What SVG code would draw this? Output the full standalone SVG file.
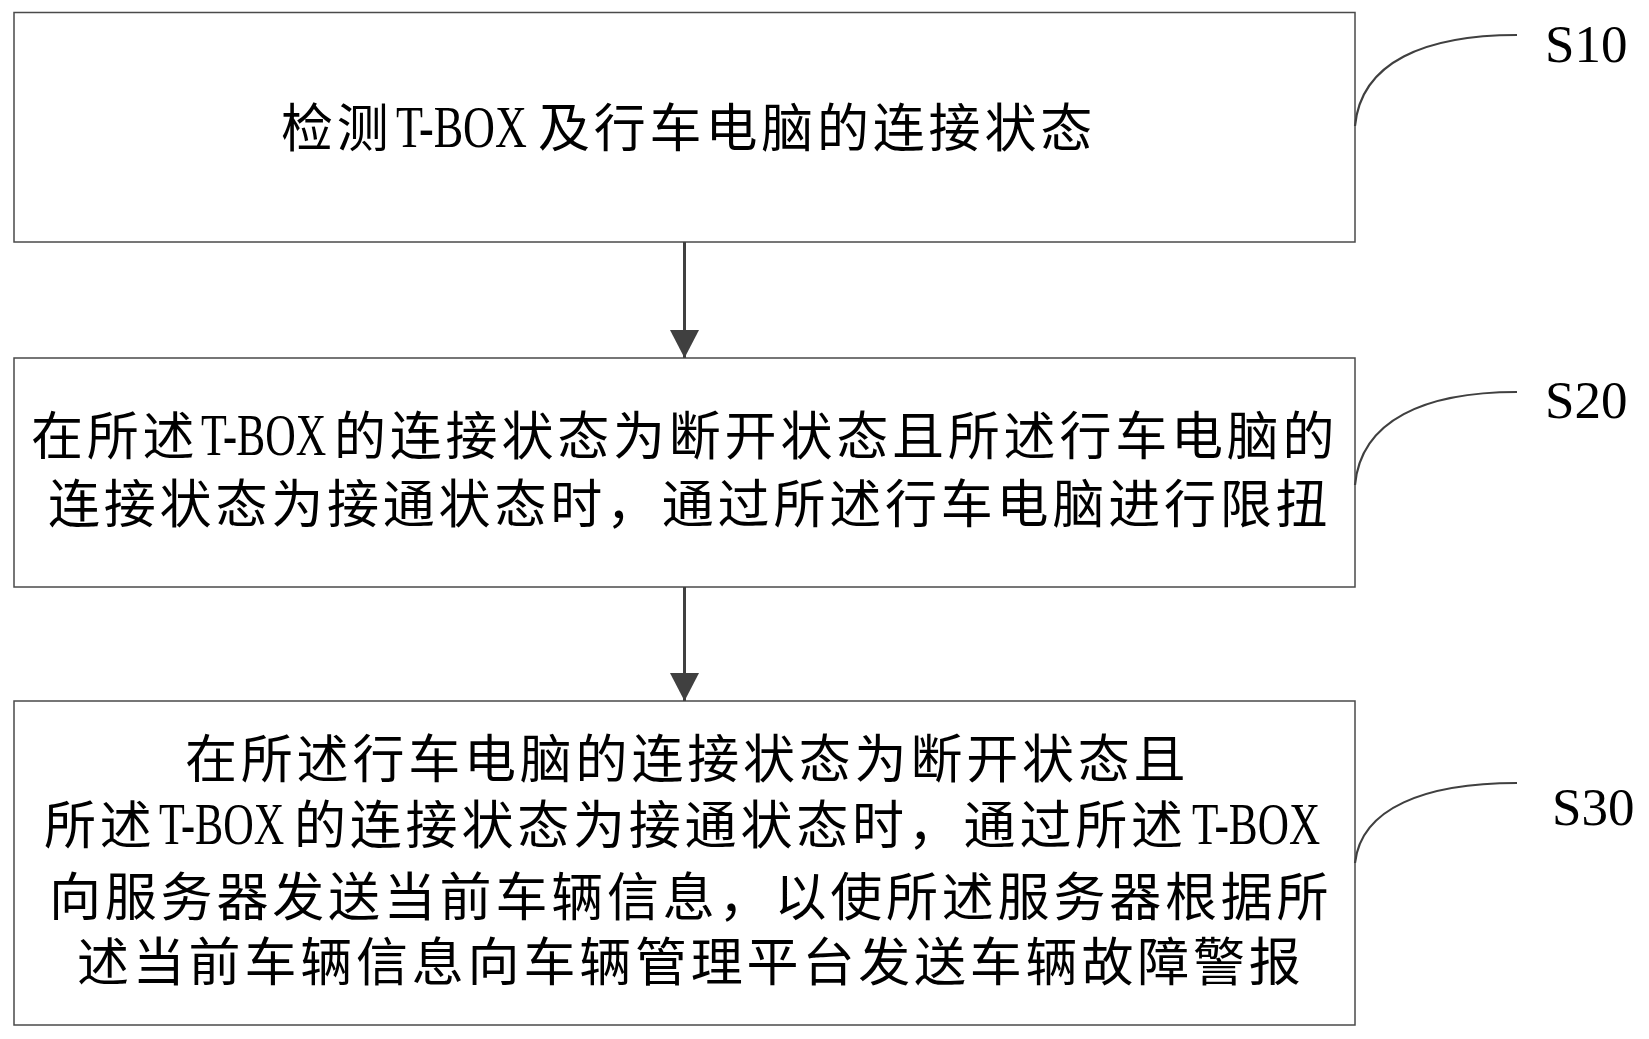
<svg xmlns="http://www.w3.org/2000/svg" width="1649" height="1039" viewBox="0 0 1649 1039">
<style>
.box{fill:#fff;stroke:#4a4a4a;stroke-width:1.5}
.c{font-family:"Noto Sans CJK SC","Noto Sans CJK TC",sans-serif;font-size:52px;letter-spacing:3.8px;fill:#000}
.l{font-family:"Liberation Serif",serif;font-size:59px;fill:#000}
.s{font-family:"Liberation Serif",serif;font-size:53px;fill:#000}
.lead{fill:none;stroke:#404040;stroke-width:2.2}
.conn{stroke:#404040;stroke-width:3;fill:none}
</style>
<defs>
<marker id="ah" viewBox="0 0 28 29" markerWidth="28" markerHeight="29" refX="28" refY="14.5" orient="auto" markerUnits="userSpaceOnUse">
<path d="M0,0 L28,14.5 L0,29 z" fill="#404040"/>
</marker>
</defs>
<rect width="1649" height="1039" fill="#fff"/>

<g id="S10">
<rect class="box" x="14" y="12.5" width="1341" height="229.5"/>
<text class="c" x="281" y="147">检测</text>
<text class="l" transform="matrix(0.749 0 0 1 396 147)">T-BOX</text>
<text class="c" x="538" y="147">及行车电脑的连接状态</text>
<path class="lead" d="M1355,126 C1361,62 1425,35 1517,35"/>
<text class="s" x="1545" y="62">S10</text>
</g>

<g id="S20">
<rect class="box" x="14" y="358" width="1341" height="229"/>
<text class="c" x="31" y="455">在所述</text>
<text class="l" transform="matrix(0.716 0 0 1 201 455)">T-BOX</text>
<text class="c" x="334" y="455">的连接状态为断开状态且所述行车电脑的</text>
<text class="c" x="48" y="523">连接状态为接通状态时，通过所述行车电脑进行限扭</text>
<path class="lead" d="M1355,485 C1361,420 1425,392 1517,392"/>
<text class="s" x="1545" y="418">S20</text>
</g>

<g id="S30">
<rect class="box" x="14" y="701" width="1341" height="324"/>
<text class="c" x="185" y="778">在所述行车电脑的连接状态为断开状态且</text>
<text class="c" x="44" y="844">所述</text>
<text class="l" transform="matrix(0.716 0 0 1 159 844)">T-BOX</text>
<text class="c" x="294" y="844">的连接状态为接通状态时，通过所述</text>
<text class="l" transform="matrix(0.733 0 0 1 1192 844)">T-BOX</text>
<text class="c" x="49" y="916">向服务器发送当前车辆信息，以使所述服务器根据所</text>
<text class="c" x="77" y="981">述当前车辆信息向车辆管理平台发送车辆故障警报</text>
<path class="lead" d="M1355,863 C1361,808 1425,783 1517,783"/>
<text class="s" x="1552" y="825">S30</text>
</g>

<g id="connectors">
<line class="conn" x1="684.5" y1="242" x2="684.5" y2="358" marker-end="url(#ah)"/>
<line class="conn" x1="684.5" y1="587" x2="684.5" y2="701" marker-end="url(#ah)"/>
</g>
</svg>
